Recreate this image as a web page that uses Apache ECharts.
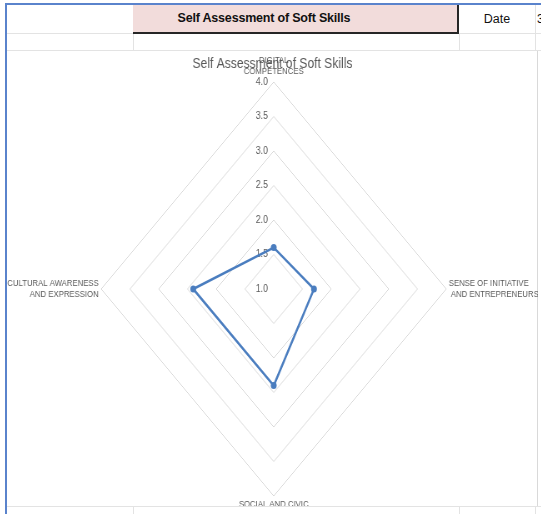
<!DOCTYPE html>
<html>
<head>
<meta charset="utf-8">
<script src="https://cdn.jsdelivr.net/npm/echarts@6/dist/echarts.min.js"></script>
<style>
  html, body { margin:0; padding:0; background:#fff; width:541px; height:514px; overflow:hidden; font-family:"Liberation Sans", Arial, sans-serif; }
  .abs { position:absolute; }
  .hl { position:absolute; height:1px; background:#e3e3e3; }
  .vl { position:absolute; width:1px; background:#e3e3e3; }
</style>
</head>
<body>
<!-- spreadsheet background -->
<div class="hl" style="left:7px; top:33px; width:534px;"></div>
<div class="hl" style="left:7px; top:50px; width:534px;"></div>
<div class="hl" style="left:7px; top:506px; width:534px;"></div>
<div class="vl" style="left:133px; top:33px; height:18px;"></div>
<div class="vl" style="left:459px; top:33px; height:18px;"></div>
<div class="vl" style="left:535px; top:5px; height:46px;"></div>
<div class="vl" style="left:133px; top:506px; height:8px;"></div>
<div class="vl" style="left:459px; top:506px; height:8px;"></div>
<div class="vl" style="left:535px; top:506px; height:8px;"></div>
<!-- header cell -->
<div class="abs" style="left:133px; top:5px; width:324px; height:27px; background:#f2dcdb; border-right:2px solid #262626; border-bottom:2px solid #262626;"></div>
<div class="abs" style="left:133px; top:5px; width:262px; height:27px; line-height:27px; text-align:center; font-weight:bold; font-size:12.5px; color:#111; letter-spacing:-0.2px;">Self Assessment of Soft Skills</div>
<div class="abs" style="left:459px; top:5px; width:76px; height:28px; line-height:28px; text-align:center; font-size:12.5px; color:#111;">Date</div>
<div class="abs" style="left:537px; top:5px; height:28px; line-height:28px; font-size:12.5px; color:#111;">3</div>
<!-- blue frame -->
<div class="abs" style="left:5px; top:3px; width:536px; height:2px; background:#5a83cc;"></div>
<div class="abs" style="left:5px; top:3px; width:2px; height:511px; background:#5a83cc;"></div>
<!-- chart area frame -->
<div class="abs" style="left:7px; top:51px; width:531px; height:455px; border-right:1px solid #d9d9d9; box-sizing:border-box;"></div>
<div class="abs" style="left:7px; top:51px; width:531px; height:455px; overflow:hidden;">
  <div id="chart" style="position:absolute; left:0; top:0; width:637px; height:455px; transform:scaleX(0.8335); transform-origin:0 0;"></div>
</div>
<script>
const chartTitle = 'Self Assessment of Soft Skills';
const categories = [
  'DIGITAL\nCOMPETENCES',
  'SENSE OF INITIATIVE\n AND ENTREPRENEURSHIP',
  'SOCIAL AND CIVIC\nCOMPETENCES',
  'CULTURAL AWARENESS\nAND EXPRESSION'
];
const values = [1.6, 1.7, 2.4, 2.4];
const axisMin = 1;
const axisMax = 4;
const axisSplits = 6;

// ECharts places radar indicators counter-clockwise; Excel places them clockwise.
const order = [0, 3, 2, 1];
const indicators = order.map((k, i) => {
  const ind = { name: categories[k], min: axisMin, max: axisMax };
  if (i !== 0) ind.axisLabel = { show: false };
  return ind;
});
const seriesValues = order.map(k => values[k]);

const chart = echarts.init(document.getElementById('chart'), null, { renderer: 'canvas' });
chart.setOption({
  animation: false,
  title: {
    text: chartTitle,
    left: 'center',
    top: 0,
    textStyle: { color: '#595959', fontSize: 14.5, fontWeight: 'normal', fontFamily: 'Liberation Sans' }
  },
  radar: {
    center: [320, 238],
    radius: 207,
    startAngle: 90,
    shape: 'polygon',
    splitNumber: axisSplits,
    nameGap: 3,
    axisName: {
      color: '#595959',
      fontSize: 9.3,
      lineHeight: 11,
      fontFamily: 'Liberation Sans'
    },
    axisLine: { show: false },
    axisTick: { show: false },
    axisLabel: {
      show: true,
      showMinLabel: true,
      showMaxLabel: true,
      color: '#595959',
      fontSize: 10.5,
      fontFamily: 'Liberation Sans',
      margin: 7,
      formatter: v => Number(v).toFixed(1)
    },
    splitLine: { lineStyle: { color: '#d9d9d9', width: 1 } },
    splitArea: { show: false },
    indicator: indicators
  },
  series: [{
    type: 'radar',
    symbol: 'circle',
    symbolSize: 7,
    lineStyle: { color: '#4a7dbf', width: 2.5 },
    itemStyle: { color: '#4a7dbf' },
    data: [{ value: seriesValues, name: chartTitle }]
  }]
});
</script>
</body>
</html>
